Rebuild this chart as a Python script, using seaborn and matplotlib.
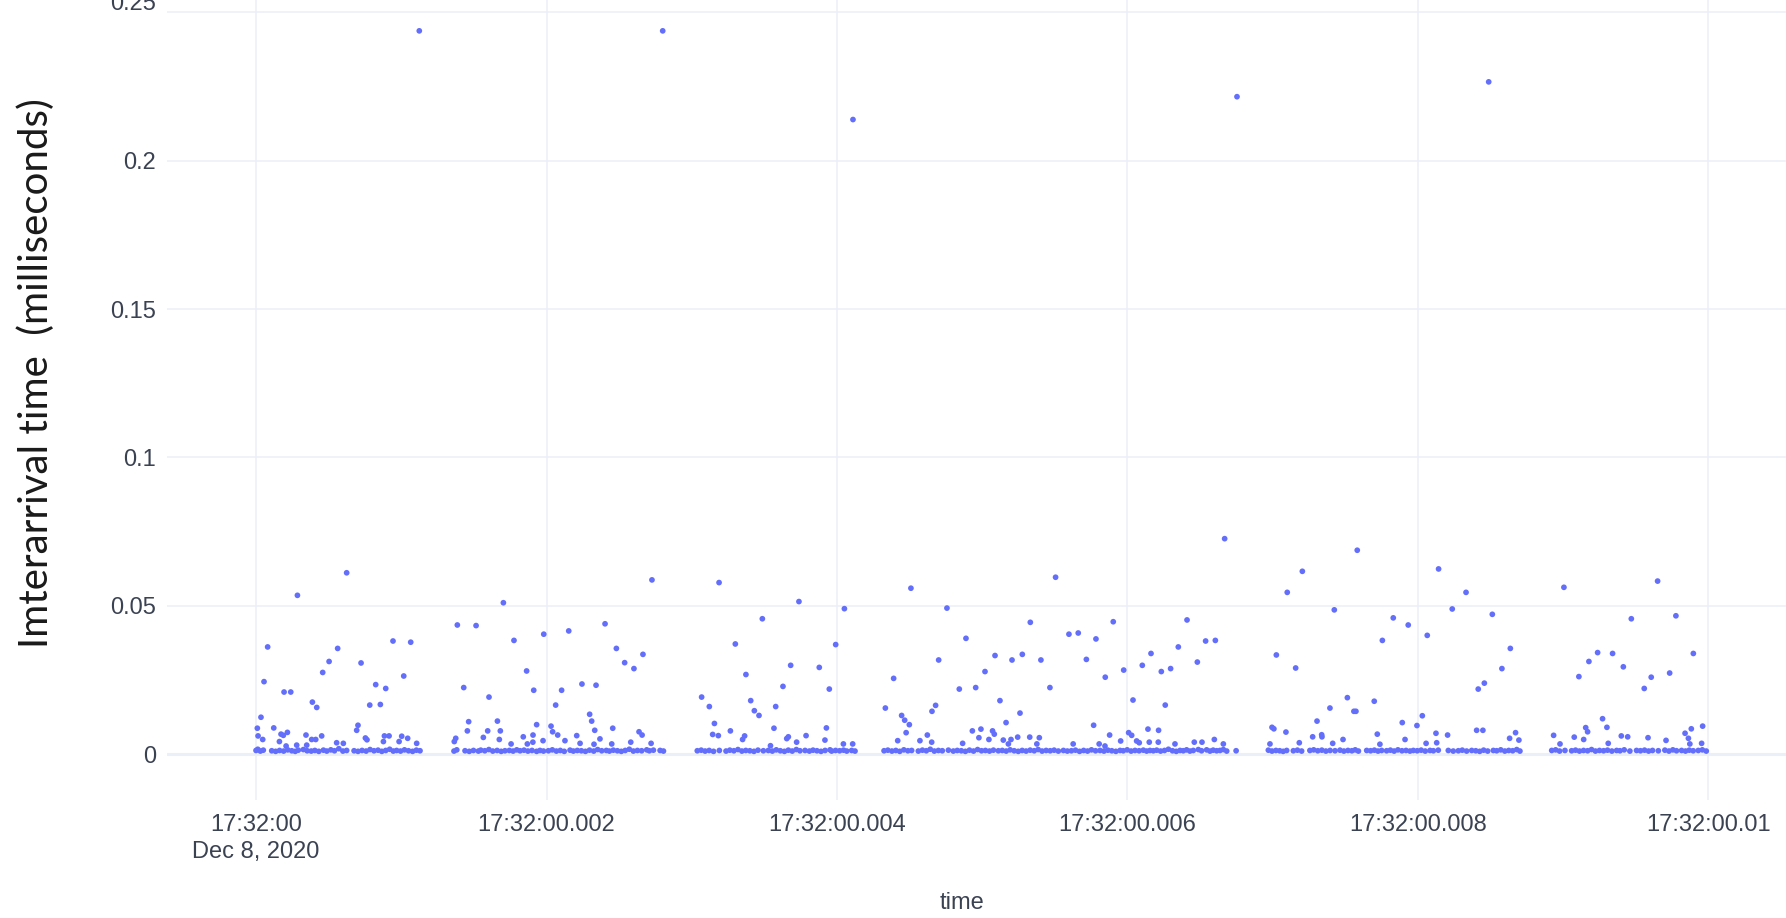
import matplotlib

matplotlib.use("Agg")
import matplotlib.pyplot as plt
import matplotlib.transforms as mtransforms
import pandas as pd
import seaborn as sns

# x: ms after 17:32:00.000 (Dec 8, 2020), y: interarrival time in ms
SPIKE_T = [1.124, 2.800, 4.110, 6.754, 8.487]
SPIKE_V = [0.2438, 0.2438, 0.2139, 0.2216, 0.2266]

MID = [
    (0.624, 0.0611), (0.285, 0.0535), (1.703, 0.0510), (1.386, 0.0435), (1.515, 0.0433), (0.943, 0.0381),
    (1.065, 0.0377), (1.776, 0.0383), (0.080, 0.0361), (0.562, 0.0356), (0.503, 0.0312), (0.723, 0.0307),
    (0.459, 0.0275), (1.017, 0.0263), (0.055, 0.0244), (0.824, 0.0234), (0.193, 0.0209), (0.239, 0.0209),
    (0.893, 0.0221), (1.430, 0.0224), (1.604, 0.0192), (0.388, 0.0175), (0.418, 0.0157), (0.783, 0.0165),
    (0.856, 0.0167), (0.034, 0.0124),
    (2.726, 0.0587), (3.188, 0.0578), (3.738, 0.0514), (3.486, 0.0456), (2.403, 0.0439), (2.153, 0.0415),
    (1.981, 0.0404), (3.300, 0.0371), (2.481, 0.0356), (2.664, 0.0336), (2.538, 0.0308), (2.602, 0.0288),
    (1.863, 0.0280), (3.681, 0.0299), (3.373, 0.0268), (2.244, 0.0236), (2.341, 0.0232), (1.912, 0.0215),
    (2.104, 0.0215), (3.628, 0.0228), (3.068, 0.0192), (3.121, 0.0160), (2.063, 0.0165), (3.406, 0.0180),
    (3.431, 0.0146), (3.463, 0.0130), (3.578, 0.0160), (2.297, 0.0134), (2.311, 0.0111),
    (5.505, 0.0596), (4.509, 0.0559), (4.051, 0.0490), (4.757, 0.0492), (5.331, 0.0444), (4.888, 0.0390),
    (5.597, 0.0404), (5.661, 0.0408), (5.783, 0.0388), (3.991, 0.0369), (5.088, 0.0332), (5.276, 0.0336),
    (4.700, 0.0317), (5.205, 0.0317), (5.404, 0.0317), (5.717, 0.0319), (3.878, 0.0292), (5.019, 0.0278),
    (4.390, 0.0255), (3.947, 0.0219), (4.842, 0.0219), (4.955, 0.0224), (5.466, 0.0224), (5.122, 0.0180),
    (4.333, 0.0155), (4.679, 0.0164), (4.654, 0.0144), (5.260, 0.0138), (4.445, 0.0130), (4.466, 0.0114),
    (4.498, 0.0099),
    (6.669, 0.0726), (7.582, 0.0687), (7.204, 0.0616), (7.100, 0.0545), (7.424, 0.0486), (5.902, 0.0446),
    (6.410, 0.0452), (6.538, 0.0381), (6.605, 0.0383), (7.755, 0.0383), (6.350, 0.0361), (6.162, 0.0339),
    (7.025, 0.0334), (6.481, 0.0310), (6.102, 0.0299), (5.974, 0.0283), (6.297, 0.0288), (6.233, 0.0278),
    (7.158, 0.0290), (5.847, 0.0259), (6.038, 0.0182), (6.260, 0.0165), (7.514, 0.0190), (7.699, 0.0178),
    (7.394, 0.0155), (7.559, 0.0144), (7.573, 0.0144), (7.305, 0.0111),
    (8.142, 0.0624), (9.650, 0.0583), (9.005, 0.0562), (8.331, 0.0545), (8.236, 0.0489), (8.512, 0.0471),
    (9.776, 0.0466), (7.830, 0.0459), (9.469, 0.0456), (7.933, 0.0435), (8.064, 0.0400), (8.636, 0.0356),
    (9.237, 0.0342), (9.340, 0.0339), (9.896, 0.0339), (9.177, 0.0312), (9.414, 0.0294), (8.578, 0.0288),
    (9.733, 0.0273), (9.108, 0.0261), (9.606, 0.0259), (8.457, 0.0239), (8.415, 0.0219), (9.558, 0.0221),
    (8.030, 0.0129), (9.271, 0.0119),
]

LOW = [
    (0.009, 0.0087), (0.122, 0.0088), (0.693, 0.0080), (0.702, 0.0097), (1.464, 0.0109), (1.662, 0.0111),
    (1.455, 0.0078), (1.595, 0.0078), (1.682, 0.0078), (0.014, 0.0061), (0.046, 0.0049), (0.172, 0.0067),
    (0.188, 0.0063), (0.216, 0.0073), (0.161, 0.0042), (0.344, 0.0064), (0.383, 0.0049), (0.411, 0.0049),
    (0.452, 0.0061), (0.753, 0.0054), (0.764, 0.0048), (0.884, 0.0061), (0.916, 0.0061), (1.003, 0.0060),
    (1.044, 0.0053), (0.877, 0.0042), (0.985, 0.0042), (1.375, 0.0053), (1.365, 0.0042), (1.565, 0.0056),
    (1.675, 0.0049), (0.555, 0.0038), (0.601, 0.0036), (0.207, 0.0027), (0.280, 0.0030), (0.349, 0.0030),
    (1.106, 0.0036), (1.756, 0.0034),
    (1.932, 0.0099), (2.031, 0.0094), (2.042, 0.0075), (2.077, 0.0064), (1.907, 0.0064), (1.840, 0.0058),
    (1.976, 0.0045), (2.127, 0.0045), (2.208, 0.0062), (2.332, 0.0080), (2.368, 0.0051), (2.456, 0.0087),
    (2.637, 0.0075), (2.658, 0.0064), (3.156, 0.0103), (3.144, 0.0066), (3.183, 0.0062), (3.266, 0.0078),
    (3.364, 0.0061), (3.350, 0.0049), (3.566, 0.0087), (3.665, 0.0058), (3.654, 0.0052), (3.787, 0.0062),
    (1.868, 0.0034), (1.906, 0.0040), (2.231, 0.0036), (2.327, 0.0033), (2.449, 0.0034), (2.580, 0.0040),
    (2.720, 0.0036), (3.722, 0.0040), (3.542, 0.0028),
    (3.927, 0.0088), (5.767, 0.0097), (5.164, 0.0106), (4.932, 0.0078), (4.991, 0.0084), (5.071, 0.0078),
    (5.083, 0.0067), (4.476, 0.0072), (4.622, 0.0064), (4.977, 0.0055), (5.046, 0.0049), (5.145, 0.0047),
    (5.198, 0.0049), (5.244, 0.0057), (5.327, 0.0057), (5.393, 0.0055), (4.418, 0.0045), (4.571, 0.0045),
    (3.917, 0.0047), (4.044, 0.0034), (4.108, 0.0034), (4.865, 0.0036), (5.180, 0.0034), (5.376, 0.0034),
    (5.626, 0.0034), (5.805, 0.0034), (4.652, 0.0040),
    (5.877, 0.0064), (6.141, 0.0084), (6.214, 0.0080), (6.995, 0.0090), (7.008, 0.0085), (7.091, 0.0074),
    (7.275, 0.0058), (7.337, 0.0065), (7.339, 0.0058), (7.484, 0.0049), (7.720, 0.0067), (6.008, 0.0072),
    (6.029, 0.0063), (5.953, 0.0044), (6.063, 0.0044), (6.081, 0.0038), (6.150, 0.0040), (6.212, 0.0040),
    (6.460, 0.0040), (6.513, 0.0040), (6.598, 0.0049), (7.183, 0.0038), (7.413, 0.0036), (7.738, 0.0033),
    (6.327, 0.0034), (6.660, 0.0034), (6.981, 0.0034), (5.845, 0.0027),
    (7.892, 0.0106), (7.993, 0.0096), (8.404, 0.0080), (8.447, 0.0080), (9.301, 0.0090), (8.124, 0.0070),
    (8.204, 0.0064), (8.672, 0.0072), (8.934, 0.0063), (9.076, 0.0057), (9.155, 0.0089), (9.168, 0.0075),
    (9.141, 0.0049), (9.400, 0.0061), (9.584, 0.0055), (9.708, 0.0046), (9.839, 0.0070), (9.882, 0.0085),
    (9.862, 0.0053), (9.960, 0.0094), (7.911, 0.0049), (8.631, 0.0053), (8.695, 0.0047), (8.056, 0.0036),
    (8.129, 0.0038), (9.444, 0.0058), (8.978, 0.0034), (9.310, 0.0036), (9.872, 0.0034), (9.953, 0.0036),
]

# dense run of packets sitting just above zero
BASE = [
    (0.000, 0.0012), (0.012, 0.0016), (0.030, 0.0010), (0.050, 0.0013),
    (0.108, 0.0011), (0.135, 0.0009), (0.162, 0.0012), (0.190, 0.0010), (0.218, 0.0014), (0.246, 0.0011),
    (0.270, 0.0009), (0.291, 0.0013),
    (0.326, 0.0015), (0.352, 0.0011), (0.380, 0.0010), (0.405, 0.0012), (0.432, 0.0009), (0.464, 0.0013),
    (0.487, 0.0010), (0.515, 0.0014), (0.540, 0.0011), (0.570, 0.0018), (0.598, 0.0010), (0.624, 0.0012),
    (0.675, 0.0011), (0.702, 0.0009), (0.730, 0.0012), (0.758, 0.0010), (0.785, 0.0015), (0.812, 0.0011),
    (0.840, 0.0013), (0.866, 0.0009), (0.893, 0.0012), (0.920, 0.0016), (0.945, 0.0010),
    (0.968, 0.0012), (0.995, 0.0010), (1.022, 0.0014), (1.050, 0.0011), (1.078, 0.0009), (1.104, 0.0013),
    (1.129, 0.0011),
    (1.363, 0.0010), (1.382, 0.0014),
    (1.439, 0.0011), (1.468, 0.0009), (1.497, 0.0012), (1.531, 0.0010),
    (1.547, 0.0013), (1.575, 0.0011), (1.603, 0.0015), (1.630, 0.0010), (1.660, 0.0012), (1.688, 0.0009),
    (1.714, 0.0011),
    (1.744, 0.0012), (1.770, 0.0010), (1.795, 0.0014),
    (1.818, 0.0011), (1.845, 0.0013), (1.872, 0.0010), (1.900, 0.0012), (1.932, 0.0009),
    (1.955, 0.0012), (1.979, 0.0010),
    (2.013, 0.0011), (2.040, 0.0014), (2.068, 0.0010), (2.095, 0.0012), (2.122, 0.0009), (2.162, 0.0013),
    (2.185, 0.0010), (2.212, 0.0012), (2.240, 0.0011), (2.268, 0.0009), (2.296, 0.0013), (2.325, 0.0010),
    (2.352, 0.0015), (2.380, 0.0011), (2.412, 0.0012),
    (2.433, 0.0010), (2.460, 0.0013), (2.488, 0.0011), (2.515, 0.0009), (2.542, 0.0012), (2.570, 0.0016),
    (2.598, 0.0010), (2.626, 0.0012), (2.655, 0.0011), (2.690, 0.0014),
    (2.708, 0.0011), (2.736, 0.0013),
    (2.782, 0.0012), (2.805, 0.0010),
    (3.038, 0.0011), (3.065, 0.0013), (3.092, 0.0010), (3.120, 0.0012), (3.150, 0.0009), (3.190, 0.0012),
    (3.236, 0.0010), (3.262, 0.0013), (3.290, 0.0011), (3.318, 0.0015), (3.345, 0.0010), (3.372, 0.0012),
    (3.400, 0.0011), (3.428, 0.0009), (3.456, 0.0013), (3.493, 0.0011),
    (3.527, 0.0012), (3.555, 0.0010), (3.582, 0.0014), (3.610, 0.0011), (3.638, 0.0009), (3.665, 0.0013),
    (3.692, 0.0010), (3.720, 0.0015), (3.745, 0.0011),
    (3.780, 0.0012), (3.810, 0.0010),
    (3.835, 0.0013), (3.862, 0.0011), (3.890, 0.0009), (3.918, 0.0012), (3.952, 0.0014),
    (3.963, 0.0010), (3.990, 0.0012), (4.018, 0.0011), (4.045, 0.0013), (4.067, 0.0010),
    (4.101, 0.0012), (4.124, 0.0010),
    (4.324, 0.0011), (4.350, 0.0013), (4.378, 0.0010), (4.405, 0.0012), (4.432, 0.0009), (4.460, 0.0014),
    (4.488, 0.0011), (4.514, 0.0012),
    (4.560, 0.0010), (4.588, 0.0013), (4.615, 0.0011), (4.642, 0.0016), (4.670, 0.0010), (4.698, 0.0012),
    (4.725, 0.0011), (4.767, 0.0013),
    (4.801, 0.0010), (4.828, 0.0012), (4.856, 0.0011), (4.884, 0.0009), (4.912, 0.0013), (4.940, 0.0010),
    (4.968, 0.0015), (4.995, 0.0011), (5.022, 0.0012), (5.050, 0.0010), (5.077, 0.0013),
    (5.111, 0.0011), (5.138, 0.0012), (5.165, 0.0010), (5.192, 0.0014), (5.220, 0.0011), (5.248, 0.0009),
    (5.275, 0.0012), (5.302, 0.0010), (5.330, 0.0013), (5.358, 0.0011), (5.385, 0.0015), (5.412, 0.0010),
    (5.440, 0.0012), (5.468, 0.0011), (5.495, 0.0013), (5.524, 0.0010),
    (5.559, 0.0012), (5.586, 0.0010), (5.614, 0.0011), (5.642, 0.0013), (5.670, 0.0009), (5.698, 0.0012),
    (5.725, 0.0010), (5.752, 0.0014), (5.780, 0.0011), (5.811, 0.0012),
    (5.838, 0.0010), (5.865, 0.0013), (5.892, 0.0011), (5.920, 0.0009), (5.949, 0.0012),
    (5.971, 0.0011), (5.998, 0.0014), (6.025, 0.0010), (6.052, 0.0012), (6.080, 0.0011), (6.109, 0.0013),
    (6.132, 0.0010), (6.155, 0.0012), (6.178, 0.0011),
    (6.201, 0.0013), (6.228, 0.0010), (6.255, 0.0012), (6.282, 0.0016), (6.310, 0.0011), (6.336, 0.0009),
    (6.362, 0.0012),
    (6.384, 0.0011), (6.407, 0.0014), (6.430, 0.0010),
    (6.453, 0.0012), (6.488, 0.0015),
    (6.510, 0.0011), (6.545, 0.0014),
    (6.568, 0.0010), (6.590, 0.0013), (6.614, 0.0011),
    (6.637, 0.0012), (6.660, 0.0015), (6.683, 0.0010),
    (6.748, 0.0011),
    (6.970, 0.0013), (6.995, 0.0010), (7.022, 0.0012), (7.048, 0.0011), (7.072, 0.0009), (7.096, 0.0012),
    (7.142, 0.0011), (7.170, 0.0013), (7.199, 0.0010),
    (7.256, 0.0012), (7.282, 0.0014), (7.310, 0.0011), (7.338, 0.0013), (7.366, 0.0010), (7.395, 0.0012),
    (7.429, 0.0011),
    (7.463, 0.0013), (7.490, 0.0010), (7.518, 0.0012), (7.545, 0.0011), (7.568, 0.0014), (7.590, 0.0010),
    (7.647, 0.0012), (7.674, 0.0011), (7.700, 0.0013), (7.725, 0.0010), (7.750, 0.0012),
    (7.784, 0.0011),
    (7.810, 0.0013), (7.836, 0.0010), (7.862, 0.0014), (7.890, 0.0011), (7.918, 0.0012), (7.945, 0.0010),
    (7.968, 0.0012), (7.995, 0.0011), (8.022, 0.0013), (8.050, 0.0010), (8.083, 0.0012),
    (8.106, 0.0011), (8.140, 0.0013),
    (8.209, 0.0012), (8.243, 0.0010),
    (8.278, 0.0011), (8.305, 0.0013), (8.335, 0.0010),
    (8.370, 0.0012), (8.398, 0.0011), (8.425, 0.0009), (8.452, 0.0013), (8.480, 0.0010), (8.519, 0.0012),
    (8.542, 0.0011), (8.570, 0.0014), (8.598, 0.0010), (8.625, 0.0012), (8.652, 0.0011), (8.680, 0.0015),
    (8.702, 0.0010),
    (8.921, 0.0012), (8.948, 0.0014), (8.975, 0.0010), (9.012, 0.0012),
    (9.058, 0.0011), (9.085, 0.0013), (9.112, 0.0010), (9.140, 0.0012), (9.168, 0.0011), (9.195, 0.0015),
    (9.222, 0.0010), (9.250, 0.0012), (9.278, 0.0011), (9.305, 0.0013), (9.335, 0.0010), (9.368, 0.0012),
    (9.391, 0.0011), (9.420, 0.0014), (9.459, 0.0010),
    (9.505, 0.0012), (9.532, 0.0011), (9.560, 0.0013), (9.588, 0.0010), (9.615, 0.0012), (9.655, 0.0011),
    (9.700, 0.0013), (9.728, 0.0010), (9.755, 0.0014), (9.780, 0.0011),
    (9.815, 0.0012), (9.842, 0.0010), (9.868, 0.0013), (9.895, 0.0011),
    (9.930, 0.0012), (9.958, 0.0014), (9.985, 0.0010),
]

X_TICKS = [0, 2, 4, 6, 8, 10]
X_TICK_LABELS = [
    "17:32:00\nDec 8, 2020",
    "17:32:00.002",
    "17:32:00.004",
    "17:32:00.006",
    "17:32:00.008",
    "17:32:00.01",
]
Y_TICKS = [0, 0.05, 0.1, 0.15, 0.2, 0.25]
Y_TICK_LABELS = ["0", "0.05", "0.1", "0.15", "0.2", "0.25"]

GRID = "#ebf0f8"
MARKER = "#636efa"
TEXT = "#3b4252"


def main() -> None:
    sns.set_theme(style="white")
    plt.rcParams["font.family"] = ["Liberation Sans", "DejaVu Sans"]

    pts = pd.DataFrame({"time": SPIKE_T, "iat": SPIKE_V})
    rest = pd.DataFrame(MID + LOW + BASE, columns=["time", "iat"])
    df = pd.concat([pts, rest], ignore_index=True)

    fig = plt.figure(figsize=(17.86, 9.18), dpi=100)
    ax = fig.add_axes([167 / 1786, 1 - 800 / 918, 1 - 167 / 1786, 800 / 918])

    ax.axhline(0, color=GRID, lw=2.2, zorder=0.6)
    sns.scatterplot(
        data=df,
        x="time",
        y="iat",
        s=17,
        color=MARKER,
        edgecolor="none",
        linewidth=0,
        legend=False,
        ax=ax,
        zorder=3,
    )

    ax.set_xlim(-0.613, 10.534)
    ax.set_ylim(-0.0155, 0.2542)
    ax.set_xticks(X_TICKS)
    ax.set_xticklabels(X_TICK_LABELS, linespacing=1.3)
    ax.set_yticks(Y_TICKS)
    ax.set_yticklabels(Y_TICK_LABELS)
    ax.tick_params(axis="x", length=0, pad=10, labelsize=17, labelcolor=TEXT)
    ax.tick_params(axis="y", length=0, pad=8, labelsize=17, labelcolor=TEXT)
    ax.grid(True, color=GRID, lw=1.1)
    ax.set_axisbelow(True)
    for sp in ax.spines.values():
        sp.set_visible(False)

    # top label is clipped by the figure edge in the source screenshot
    top = ax.get_yticklabels()[-1]
    top.set_transform(top.get_transform() + mtransforms.ScaledTranslation(0, 8 / 72, fig.dpi_scale_trans))

    ax.set_xlabel("time", fontsize=17, color=TEXT)
    ax.xaxis.set_label_coords((962 - 167) / 1619, -103 / 800)
    ax.xaxis.label.set_va("center")
    ax.set_ylabel("")

    fig.text(
        36 / 1786,
        1 - 373 / 918,
        "Imterarrival time  (milliseconds)",
        rotation=90,
        ha="center",
        va="center",
        fontsize=29,
        color="#1a1a1a",
        family=["Lato", "DejaVu Sans"],
    )

    fig.savefig("out.png", dpi=100)
    plt.close(fig)


if __name__ == "__main__":
    main()
